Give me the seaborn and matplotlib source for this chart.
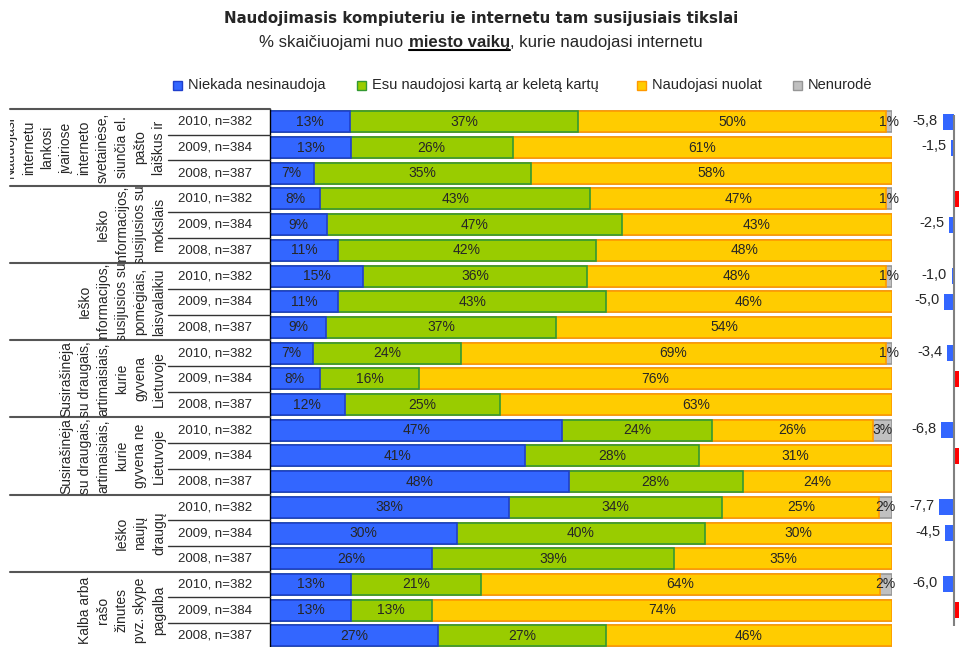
"""
    Naudojimasis kompiuteriu ir internetu - stacked bars per year with change column.
"""

import numpy as np
import pandas as pd
import matplotlib
matplotlib.use("Agg")
import matplotlib.pyplot as plt
from matplotlib.patches import Rectangle
from matplotlib.lines import Line2D
from matplotlib.transforms import IdentityTransform, Bbox, TransformedBbox
import seaborn as sns

#data
title = "Naudojimasis kompiuteriu ie internetu tam susijusiais tikslai"
subtitle = ["% skaičiuojami nuo", "miesto vaikų", ", kurie naudojasi internetu"]

series = ["Niekada nesinaudoja", "Esu naudojosi kartą ar keletą kartų",
          "Naudojasi nuolat", "Nenurodė"]

groups = [
    "Naudojasi\ninternetu\nlankosi\nįvairiose\ninterneto\nsvetainėse,\nsiunčia el.\npašto\nlaiškus ir",
    "Ieško\ninformacijos,\nsusijusios su\nmokslais",
    "Ieško\ninformacijos,\nsusijusios su\npomėgiais,\nlaisvalaikiu",
    "Susirašinėja\nsu draugais,\nartimaisiais,\nkurie\ngyvena\nLietuvoje",
    "Susirašinėja\nsu draugais,\nartimaisiais,\nkurie\ngyvena ne\nLietuvoje",
    "Ieško\nnaujų\ndraugų",
    "Kalba arba\nrašo\nžinutes\npvz. skype\npagalba",
]
years = ["2010, n=382", "2009, n=384", "2008, n=387"]

niekada = [13, 13, 7, 8, 9, 11, 15, 11, 9, 7, 8, 12, 47, 41, 48, 38, 30, 26, 13, 13, 27]
karta = [37, 26, 35, 43, 47, 42, 36, 43, 37, 24, 16, 25, 24, 28, 28, 34, 40, 39, 21, 13, 27]
nuolat = [50, 61, 58, 47, 43, 48, 48, 46, 54, 69, 76, 63, 26, 31, 24, 25, 30, 35, 64, 74, 46]
nenurode = [1, 0, 0, 1, 0, 0, 1, 0, 0, 1, 0, 0, 3, 0, 0, 2, 0, 0, 2, 0, 0]

#change column on the right (red bars are cut off in the picture)
pokytis = [-5.8, -1.5, np.nan, 3.0, -2.5, np.nan, -1.0, -5.0, np.nan, -3.4, 3.0, np.nan,
           -6.8, 3.0, np.nan, -7.7, -4.5, np.nan, -6.0, 3.0, np.nan]

fills = ["#3366FF", "#99CC00", "#FFCC00", "#C0C0C0"]
edges = ["#1F3FCC", "#339933", "#FF9900", "#969696"]

sns.set_style("white")
plt.rcParams["font.family"] = ["Liberation Sans", "DejaVu Sans"]

row_ids = [f"{g}|{y}" for g in range(len(groups)) for y in years]
n = len(row_ids)
cols = ["niekada", "karta", "nuolat", "nenurode"]
df = pd.DataFrame({"row": row_ids, "niekada": niekada, "karta": karta,
                   "nuolat": nuolat, "nenurode": nenurode})
share = df[cols].div(df[cols].sum(axis=1), axis=0) * 100
cum = share.cumsum(axis=1)

W, H = 959, 647
fig = plt.figure(figsize=(W / 100, H / 100), dpi=100)
top_px, row_px = 109, 25.7
bot_frac = (H - top_px - n * row_px) / H
h_frac = n * row_px / H

ax = fig.add_axes([270 / W, bot_frac, (892 - 270) / W, h_frac])
ax0 = fig.add_axes([10 / W, bot_frac, 260 / W, h_frac])
ax2 = fig.add_axes([900 / W, bot_frac, 110 / W, h_frac])

#stacked bars, drawn back to front with cumulative totals
for col, fc, ec in reversed(list(zip(cols, fills, edges))):
    d = pd.DataFrame({"row": row_ids, "x": cum[col].values})
    sns.barplot(data=d, x="x", y="row", order=row_ids, orient="h", color=fc,
                edgecolor=ec, linewidth=1.2, saturation=1, width=0.82,
                errorbar=None, ax=ax)

for i in range(n):
    left = 0
    for col in cols:
        v = df.loc[i, col]
        w = share.loc[i, col]
        if v > 0:
            ax.text(left + w / 2, i, f"{v}%", ha="center", va="center", fontsize=10)
        left += w

ax.set_xlim(0, 100)
ax.set_ylim(n - 0.5, -0.5)
ax.set_xticks([])
ax.set_yticks([])
ax.set_xlabel("")
ax.set_ylabel("")
for s in ["top", "right", "bottom"]:
    ax.spines[s].set_visible(False)
ax.spines["left"].set_color("black")
ax.spines["left"].set_linewidth(1.0)

#left table with group and year labels
ax0.set_xlim(10, 270)
ax0.set_ylim(n - 0.5, -0.5)
ax0.axis("off")
for i in range(n + 1):
    b = i - 0.5
    if i % 3 == 0:
        ax0.plot([10, 270], [b, b], color="#555555", lw=1.5, clip_on=False)
    else:
        ax0.plot([168, 270], [b, b], color="#333333", lw=1.0, clip_on=False)
for i, rid in enumerate(row_ids):
    ax0.text(178, i, rid.split("|")[1], ha="left", va="center", fontsize=9.5)
for g, lab in enumerate(groups):
    t = ax0.text(166, 3 * g + 1, lab, rotation=90, ha="right", va="center",
                 multialignment="center", fontsize=10, linespacing=1.42)
    t.set_clip_on(True)
    t.set_clip_path(None)
    t.set_clip_box(TransformedBbox(Bbox([[10, 3 * g - 0.5], [168, 3 * g + 2.5]]),
                                   ax0.transData))

#change column
d2 = pd.DataFrame({"row": row_ids, "v": pokytis}).dropna()
d2["sign"] = np.where(d2["v"] < 0, "neg", "pos")
sns.barplot(data=d2, x="v", y="row", hue="sign", order=row_ids, orient="h",
            palette={"neg": "#3366FF", "pos": "#FF0000"}, width=0.62, saturation=1,
            linewidth=0, errorbar=None, legend=False, dodge=False, ax=ax2)
ax2.set_xlim(-28.4, 29.5)
ax2.set_ylim(n - 0.5, -0.5)
ax2.axis("off")
ax2.vlines(0, -0.27, 19.6, color="#808080", lw=1.5)
#only the negative labels are inside the picture
for i, v in enumerate(pokytis):
    if np.isnan(v) or v > 0:
        continue
    lab = f"{v:.1f}".replace(".", ",")
    ax2.text(v - 2.6, i - 0.05, lab, ha="right", va="center", fontsize=10.5)

#titles
px = IdentityTransform()
r = fig.canvas.get_renderer()
fig.text(481, H - 18, title, ha="center", va="center", fontsize=10.8,
         fontweight="bold", family=["DejaVu Sans"], transform=px)

base_y = H - 47
sub_txt = []
for s, w in zip(subtitle, ["normal", "bold", "normal"]):
    sub_txt.append(fig.text(0, base_y, s, ha="left", va="baseline", fontsize=12,
                            fontweight=w, transform=px))
gap = 6
tot = sum(t.get_window_extent(r).width for t in sub_txt) + gap
for t in sub_txt:
    t.set_fontsize(12 * (444 - gap) / (tot - gap))
widths = [t.get_window_extent(r).width for t in sub_txt]
x = 481 - (sum(widths) + gap) / 2
sub_txt[0].set_x(x)
x += widths[0] + gap
sub_txt[1].set_x(x)
fig.add_artist(Line2D([x, x + widths[1]], [base_y - 3, base_y - 3], color="black",
                      lw=1.5, transform=px))
x += widths[1]
sub_txt[2].set_x(x)

#legend
leg_x = [177, 361, 641, 797]
leg_y = H - 85
for lx, s, fc, ec in zip(leg_x, series, fills, edges):
    fig.add_artist(Rectangle((lx - 4.5, leg_y - 4.5), 9, 9, facecolor=fc, edgecolor=ec,
                             lw=1, transform=px))
    fig.text(lx + 11, leg_y, s, ha="left", va="center", fontsize=10.5, transform=px)

fig.savefig("out.png", dpi=100)
